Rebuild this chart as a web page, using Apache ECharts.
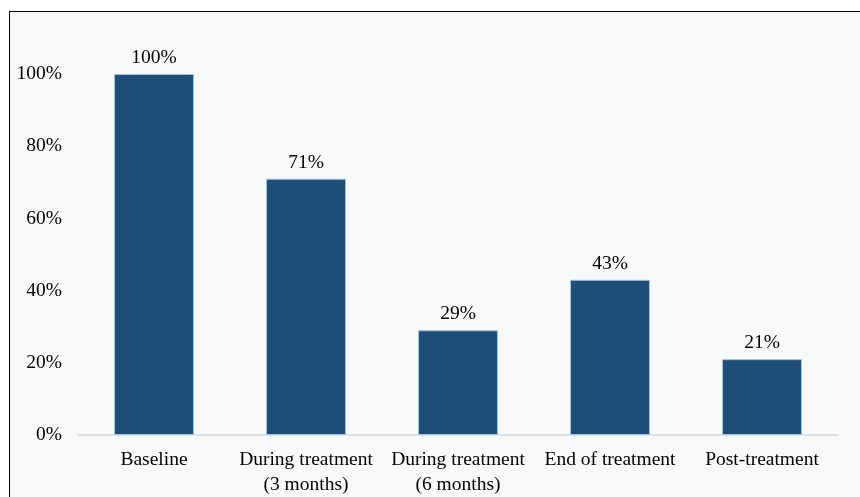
<!DOCTYPE html>
<html>
<head>
<meta charset="utf-8">
<script src="https://cdn.jsdelivr.net/npm/echarts@6/dist/echarts.min.js"></script>
<style>
html,body{margin:0;padding:0;background:#fff;overflow:hidden;}
#frame{position:absolute;left:9px;top:11px;width:860px;height:500px;border:1px solid #000;background:#f8f9f9;box-sizing:border-box;}
#chart{position:absolute;left:0;top:0;width:860px;height:497px;}
</style>
</head>
<body>
<div id="frame"></div>
<div id="chart"></div>
<script>
const categories = ["Baseline", "During treatment\n(3 months)", "During treatment\n(6 months)", "End of treatment", "Post-treatment"];
const values = [100, 71, 29, 43, 21];
const yTicks = [0, 20, 40, 60, 80, 100];

const chart = echarts.init(document.getElementById('chart'));
const font = '"Liberation Serif", "Times New Roman", serif';
chart.setOption({
  backgroundColor: 'transparent',
  animation: false,
  grid: {left: 78, right: 22, top: 74, bottom: 62},
  xAxis: {
    type: 'category',
    data: categories,
    axisLine: {show: true, lineStyle: {color: '#d9d9d9', width: 1.5}},
    axisTick: {show: false},
    axisLabel: {color: '#000', fontFamily: font, fontSize: 19.5, lineHeight: 25, margin: 12, interval: 0, hideOverlap: false}
  },
  yAxis: {
    type: 'value',
    min: yTicks[0],
    max: yTicks[yTicks.length - 1],
    interval: 20,
    axisLine: {show: false},
    axisTick: {show: false},
    splitLine: {show: false},
    axisLabel: {color: '#000', fontFamily: font, fontSize: 19.5, margin: 16, formatter: v => v + '%'}
  },
  series: [{
    type: 'bar',
    data: values,
    barWidth: 80,
    itemStyle: {color: '#1f4e79', borderColor: '#9dc3e6', borderWidth: 1},
    label: {show: true, position: 'top', distance: 6, color: '#000', fontFamily: font, fontSize: 19.5, formatter: p => p.value + '%'}
  }]
});
</script>
</body>
</html>
